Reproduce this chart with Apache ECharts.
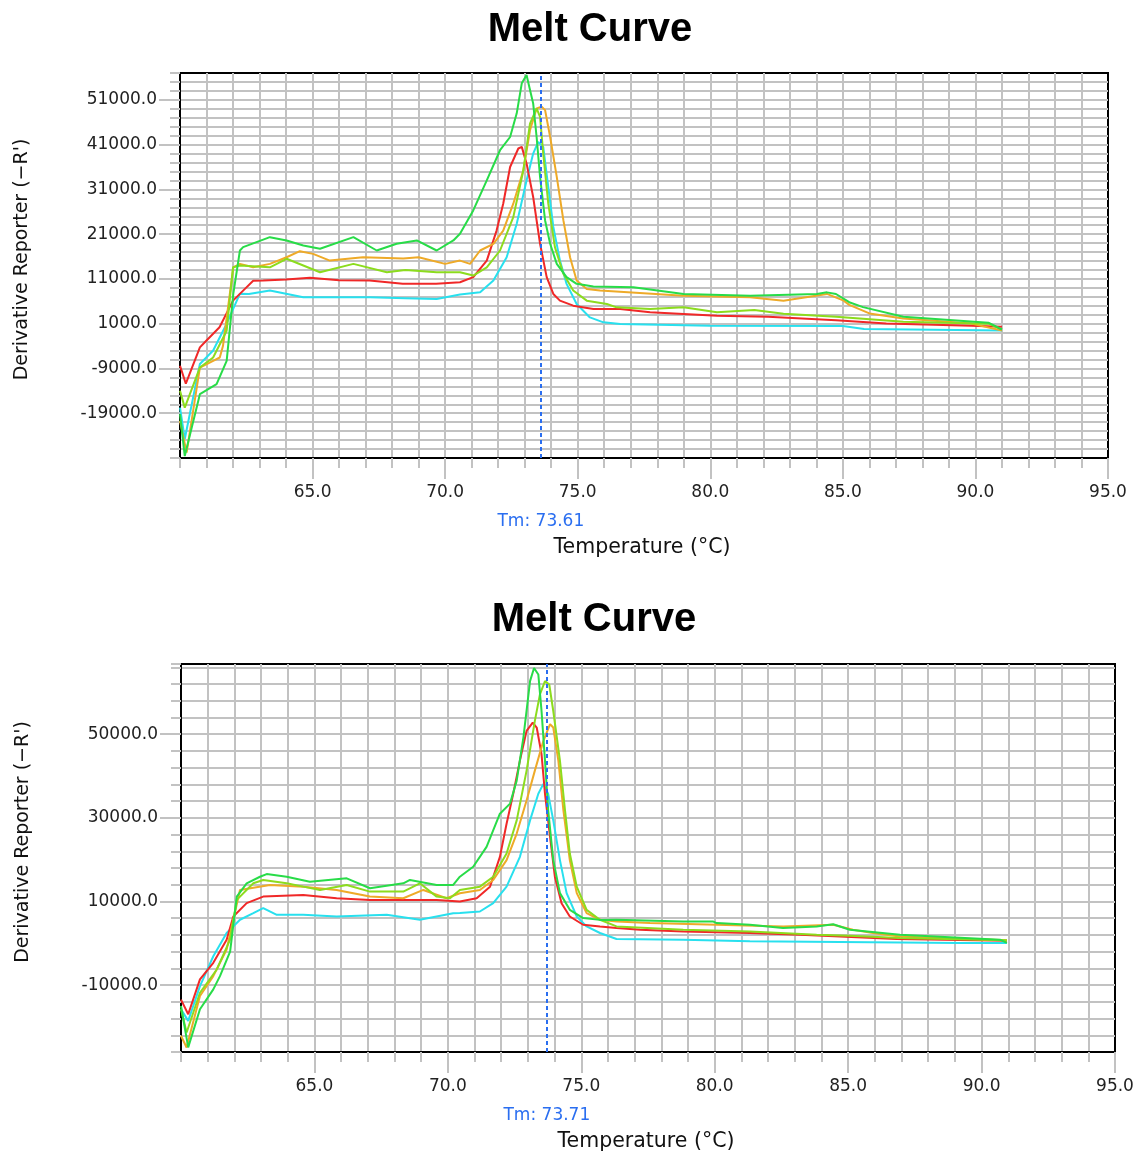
<!DOCTYPE html>
<html><head><meta charset="utf-8">
<script src="https://cdn.jsdelivr.net/npm/echarts@6/dist/echarts.min.js"></script>
<style>html,body{margin:0;padding:0;background:#fff}#c{width:1137px;height:1153px}</style>
</head><body><div id="c"></div>
<script>
// ---------- data ----------
const xLabelValues = [65, 70, 75, 80, 85, 90, 95];
const topYLabelValues = [-19000, -9000, 1000, 11000, 21000, 31000, 41000, 51000];
const botYLabelValues = [-10000, 10000, 30000, 50000];
const tmTop = 73.61;
const tmBottom = 73.71;

const topRed = [[60.0,-8400],[60.22,-12400],[60.75,-4300],[60.99,-2800],[61.49,200],[62.0,6150],[62.4,8500],[62.76,10600],[63.14,10630],[64.0,10900],[64.9,11240],[66.0,10700],[67.15,10630],[68.4,9900],[69.66,9900],[70.56,10260],[71.06,11400],[71.57,15100],[71.94,21800],[72.19,27800],[72.45,36000],[72.76,40130],[72.89,40500],[73.07,36800],[73.32,29300],[73.58,18850],[73.83,11400],[74.08,7650],[74.33,6150],[74.83,5030],[75.59,4300],[76.6,4300],[77.73,3540],[80.25,2790],[82.18,2560],[84.74,1790],[86.64,1020],[89.84,550],[91.0,300]];
const topCyan = [[60.0,-17750],[60.18,-24760],[60.75,-8000],[61.25,-5000],[61.76,1000],[62.26,7700],[62.6,7650],[63.39,8400],[64.65,6900],[66.0,6900],[67.17,6900],[68.5,6700],[69.68,6530],[70.56,7500],[71.32,8000],[71.82,10630],[72.32,15850],[72.7,23330],[73.07,33000],[73.32,39000],[73.51,41600],[73.7,40500],[73.89,31500],[74.08,22600],[74.33,15100],[74.58,9900],[74.96,5400],[75.46,2400],[75.97,1300],[76.6,930],[80.0,550],[85.0,500],[85.8,-200],[91.0,-500]];
const topOrange = [[60.0,-20700],[60.25,-27800],[60.75,-8800],[61.25,-7300],[61.5,-6550],[61.62,-4000],[62.01,13600],[62.26,14360],[62.76,13600],[63.39,14360],[64.02,15850],[64.52,17200],[65.02,16600],[65.65,15100],[66.9,15850],[68.42,15550],[69.0,15850],[70.0,14360],[70.56,15100],[70.94,14360],[71.32,17350],[71.82,18850],[72.19,21800],[72.57,27800],[72.95,35270],[73.2,44200],[73.45,49100],[73.64,49450],[73.77,48700],[73.96,42700],[74.21,33800],[74.46,24070],[74.71,15850],[74.96,10630],[75.34,8770],[75.84,8400],[78.99,7270],[81.5,6900],[82.76,6150],[84.4,7650],[85.03,6150],[85.24,5200],[86.0,3300],[87.28,2160],[89.84,1020],[91.0,-500]];
const topLime = [[60.0,-14000],[60.18,-17750],[60.75,-8800],[61.25,-6550],[61.76,-560],[62.0,13600],[62.26,14000],[63.39,13600],[64.02,15500],[65.28,12500],[66.54,14360],[67.8,12500],[68.5,13000],[69.68,12500],[70.56,12500],[71.06,11750],[71.57,13600],[72.07,17350],[72.57,24800],[72.95,35270],[73.2,45700],[73.45,49100],[73.58,47200],[73.7,39000],[73.89,27800],[74.14,18100],[74.46,12140],[74.83,8400],[75.34,6150],[76.1,5400],[76.47,4650],[77.73,4300],[78.99,4650],[80.25,3540],[81.66,4080],[82.76,3200],[84.74,2560],[87.28,1450],[90.49,1000],[91.0,-300]];
const topGreen = [[60.0,-19200],[60.18,-28570],[60.75,-14750],[61.38,-12500],[61.76,-7300],[62.01,7650],[62.26,17350],[62.38,18100],[63.39,20330],[64.02,19600],[64.65,18470],[65.28,17730],[66.54,20330],[67.42,17350],[68.17,18850],[68.93,19600],[69.68,17350],[70.31,19600],[70.56,21100],[71.06,26300],[71.57,33000],[72.07,39750],[72.45,42700],[72.7,48000],[72.89,54700],[73.07,56550],[73.32,50200],[73.45,42700],[73.58,33800],[73.77,24070],[73.96,18850],[74.21,14370],[74.58,11400],[74.96,9900],[75.59,9300],[77.1,9130],[78.99,7650],[81.5,7270],[84.02,7650],[84.4,8000],[84.74,7630],[85.24,5800],[85.76,4700],[87.28,2560],[90.49,1220],[91.0,-300]];

const botRed = [[60.0,-13470],[60.27,-16970],[60.71,-8640],[61.21,-4670],[61.71,870],[61.96,6410],[62.46,9600],[63.08,11170],[64.58,11570],[65.83,10780],[67.08,10380],[68.33,10380],[69.58,10380],[70.45,10000],[71.08,10780],[71.58,13550],[71.95,20680],[72.2,28600],[72.45,35750],[72.7,43700],[72.95,50800],[73.18,52780],[73.33,51600],[73.51,45260],[73.64,35750],[73.83,25430],[74.01,15920],[74.26,9600],[74.57,6410],[75.07,4430],[75.7,4030],[76.32,3650],[77.2,3250],[78.82,2840],[81.32,2460],[83.2,2060],[86.82,1030],[90.95,600]];
const botCyan = [[60.0,-15780],[60.27,-18560],[60.71,-10240],[61.21,-3100],[61.71,2460],[62.21,5630],[62.71,7210],[63.08,8400],[63.59,6810],[64.58,6810],[65.83,6410],[67.71,6810],[68.95,5630],[70.2,7210],[70.45,7220],[71.2,7600],[71.7,9600],[72.2,13550],[72.7,20680],[73.08,29400],[73.39,35750],[73.58,38130],[73.76,35750],[73.95,29400],[74.2,19900],[74.45,12000],[74.83,6410],[75.2,4030],[75.7,2460],[76.32,1030],[78.82,870],[81.32,470],[89.19,80],[90.95,80]];
const botOrange = [[60.0,-22120],[60.21,-24910],[60.71,-12620],[61.21,-7860],[61.71,-1500],[62.21,12760],[63.33,13950],[64.58,13550],[65.83,12760],[67.08,11170],[68.33,10780],[69.08,12760],[69.95,10780],[70.45,11970],[71.2,12760],[71.7,15140],[72.2,19900],[72.58,26240],[72.95,34160],[73.26,41300],[73.58,48430],[73.83,52400],[73.95,51600],[74.14,43700],[74.33,31800],[74.57,19900],[74.83,12000],[75.2,7220],[75.7,5620],[76.32,5230],[77.57,4830],[80.07,4430],[82.57,4040],[84.44,4430],[85.18,3250],[85.93,2460],[86.94,1650],[90.95,700]];
const botLime = [[60.0,-15780],[60.21,-21330],[60.71,-11830],[61.34,-6270],[61.84,870],[62.09,10380],[62.71,14350],[63.08,15150],[63.96,14350],[64.58,13550],[65.21,12760],[66.21,13950],[67.08,12360],[68.33,12360],[68.95,14350],[69.58,11170],[70.08,10780],[70.45,12760],[71.2,13550],[71.7,15920],[72.2,21470],[72.58,29400],[72.95,41300],[73.26,53200],[73.45,59530],[73.64,62700],[73.8,61900],[73.95,55560],[74.2,43700],[74.39,31800],[74.57,21470],[74.83,13550],[75.2,8000],[75.7,5620],[76.32,4040],[78.82,3250],[81.32,2840],[83.82,2060],[85.06,1820],[86.94,1270],[90.95,700]];
const botGreen = [[60.0,-15000],[60.27,-24890],[60.71,-15780],[61.21,-11020],[61.46,-7860],[61.84,-2000],[62.09,11170],[62.46,14350],[62.96,15920],[63.21,16560],[63.96,15920],[64.83,14740],[66.21,15540],[67.08,13160],[68.33,14350],[68.58,15150],[69.58,13950],[70.2,13950],[70.45,15920],[70.95,18300],[71.45,23050],[71.95,31000],[72.33,33400],[72.58,38900],[72.83,49200],[73.08,62700],[73.23,65860],[73.39,64300],[73.51,55600],[73.64,43700],[73.76,31800],[73.95,19900],[74.2,12000],[74.57,8000],[75.07,6030],[75.7,5600],[76.32,5630],[78.82,5230],[79.93,5230],[80.07,4830],[81.32,4430],[82.56,3650],[83.82,4040],[84.44,4560],[85.06,3250],[86.94,2060],[90.69,870],[90.95,80]];

// ---------- style ----------
const GRAY = '#c2c2c2';
const FONT = 'DejaVu Sans';
const COLORS = { red: '#f02828', cyan: '#28e0ee', orange: '#eeaa28', lime: '#8cdc1e', green: '#28dc48' };
const TM_BLUE = '#2a6ef0';

function gridAxes(gi, yMin, yMax, yStep, yLabels, yNameShift) {
  const xAxes = [
    { gridIndex: gi, type: 'value', min: 60, max: 95, interval: 1,
      axisLine: { show: true, onZero: false, lineStyle: { color: '#000', width: 2 } },
      axisTick: { show: true, length: 10, lineStyle: { color: GRAY, width: 2 } },
      axisLabel: { show: false },
      splitLine: { show: true, showMinLine: false, showMaxLine: false, lineStyle: { color: GRAY, width: 2 } },
      name: 'Temperature (\u00B0C)', nameLocation: 'middle', nameGap: 79,
      nameTextStyle: { color: '#111', fontFamily: FONT, fontSize: 20.5, padding: [0, 4, 0, 0] } },
    { gridIndex: gi, type: 'value', min: 60, max: 95, interval: 5, position: 'bottom',
      axisLine: { show: false, onZero: false },
      axisTick: { show: true, length: 21, customValues: xLabelValues, lineStyle: { color: GRAY, width: 2 } },
      axisLabel: { show: true, customValues: xLabelValues, margin: 26, color: '#222', fontFamily: FONT, fontSize: 17,
        formatter: v => Number(v).toFixed(1) },
      splitLine: { show: false } }
  ];
  const yAxes = [
    { gridIndex: gi, type: 'value', min: yMin, max: yMax, interval: yStep, position: 'left',
      axisLine: { show: true, onZero: false, lineStyle: { color: '#000', width: 2 } },
      axisTick: { show: true, length: 10, lineStyle: { color: GRAY, width: 2 } },
      axisLabel: { show: false },
      splitLine: { show: true, showMinLine: false, showMaxLine: false, lineStyle: { color: GRAY, width: 2 } },
      name: 'Derivative Reporter (\u2212R\')', nameLocation: 'middle', nameGap: 148,
      nameTextStyle: { color: '#111', fontFamily: FONT, fontSize: 19, padding: [0, 0, 0, yNameShift] } },
    { gridIndex: gi, type: 'value', min: yMin, max: yMax, position: 'left',
      axisLine: { show: false, onZero: false },
      axisTick: { show: true, length: 21, customValues: yLabels, lineStyle: { color: GRAY, width: 2 } },
      axisLabel: { show: true, customValues: yLabels, margin: 23, color: '#222', fontFamily: FONT, fontSize: 17,
        formatter: v => Number(v).toFixed(1) },
      splitLine: { show: false } }
  ];
  return { xAxes, yAxes };
}

const topAx = gridAxes(0, -29000, 57000, 2000, topYLabelValues, 12);
const botAx = gridAxes(1, -26000, 66800, 4000, botYLabelValues, 32);

function lineSeries(data, color, xi, yi) {
  return { type: 'line', data, xAxisIndex: xi, yAxisIndex: yi, showSymbol: false, smooth: false,
    animation: false, lineStyle: { color, width: 2 }, itemStyle: { color }, z: 3 };
}
function tmSeries(tm, xi, yi) {
  return { type: 'line', data: [], xAxisIndex: xi, yAxisIndex: yi, z: 5,
    markLine: { silent: true, symbol: 'none', animation: false,
      lineStyle: { color: TM_BLUE, type: [4, 3], width: 2 },
      label: { show: true, position: 'start', distance: 55, color: TM_BLUE, fontFamily: FONT, fontSize: 17,
        formatter: 'Tm: ' + tm.toFixed(2) },
      data: [{ xAxis: tm }] } };
}

const option = {
  backgroundColor: '#fff',
  animation: false,
  title: [
    { text: 'Melt Curve', left: 585, top: 5, textAlign: 'center',
      textStyle: { fontFamily: 'Liberation Sans', fontWeight: 'bold', fontSize: 40, color: '#000' } },
    { text: 'Melt Curve', left: 589, top: 595, textAlign: 'center',
      textStyle: { fontFamily: 'Liberation Sans', fontWeight: 'bold', fontSize: 40, color: '#000' } }
  ],
  grid: [
    { left: 180, top: 73, width: 928, height: 385, show: true, borderColor: '#000', borderWidth: 2, backgroundColor: '#fff' },
    { left: 181, top: 664, width: 934, height: 388, show: true, borderColor: '#000', borderWidth: 2, backgroundColor: '#fff' }
  ],
  xAxis: [...topAx.xAxes, ...botAx.xAxes],
  yAxis: [...topAx.yAxes, ...botAx.yAxes],
  series: [
    lineSeries(topCyan, COLORS.cyan, 0, 0),
    lineSeries(topRed, COLORS.red, 0, 0),
    lineSeries(topOrange, COLORS.orange, 0, 0),
    lineSeries(topLime, COLORS.lime, 0, 0),
    lineSeries(topGreen, COLORS.green, 0, 0),
    tmSeries(tmTop, 0, 0),
    lineSeries(botCyan, COLORS.cyan, 2, 2),
    lineSeries(botRed, COLORS.red, 2, 2),
    lineSeries(botOrange, COLORS.orange, 2, 2),
    lineSeries(botLime, COLORS.lime, 2, 2),
    lineSeries(botGreen, COLORS.green, 2, 2),
    tmSeries(tmBottom, 2, 2)
  ]
};
const chart = echarts.init(document.getElementById('c'), null, { renderer: 'canvas' });
chart.setOption(option);
</script></body></html>
